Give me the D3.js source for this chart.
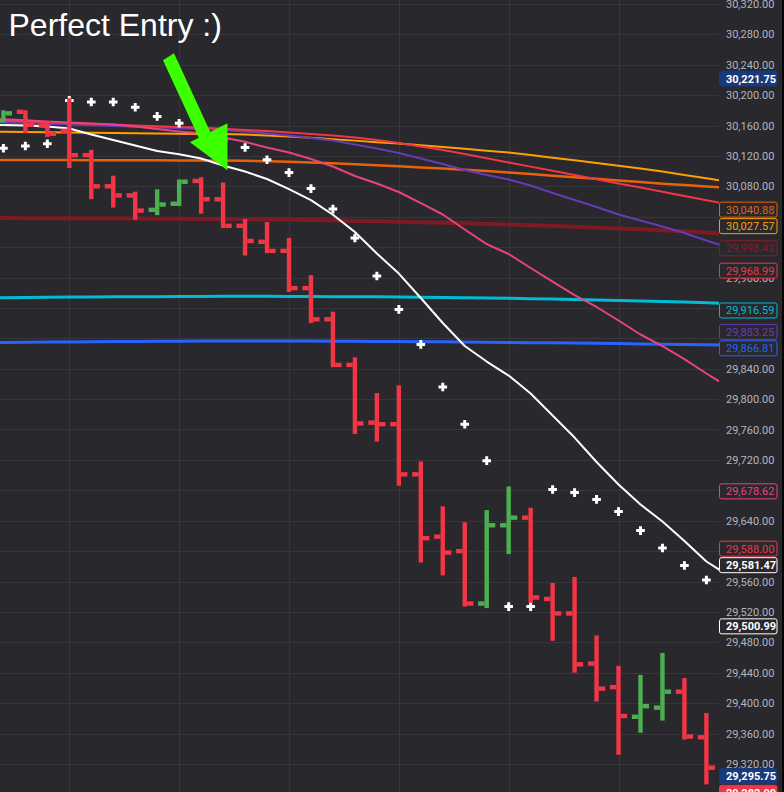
<!DOCTYPE html>
<meta charset="utf-8" />
<style>
  body { margin: 0; background: #28282d; }
  svg { display: block; }
  .tick text { font-family: Roboto, sans-serif; font-size: 11px; fill: #b2b5be; }
</style>
<body>
  <svg id="chart" width="784" height="792"></svg>
</body>
<script src="https://d3js.org/d3.v7.min.js"></script>
<script>
  // OHLC bars, one entry per bar
  const opens = [30166, 30178, 30160, 30153, 30121, 30080, 30068, 30049, 30057, 30087, 30063, 30028, 30007, 29995, 29946, 29905, 29845, 29769, 29767, 29701, 29619, 29600, 29531, 29634, 29644, 29537, 29518, 29452, 29421, 29382, 29394, 29415, 29355];
  const highs = [30180, 30180, 30165, 30196, 30128, 30094, 30073, 30076, 30089, 30092, 30085, 30037, 30033, 30012, 29963, 29915, 29855, 29808, 29818, 29718, 29659, 29638, 29654, 29685, 29657, 29558, 29566, 29489, 29449, 29437, 29466, 29433, 29387];
  const lows = [30164, 30150, 30145, 30104, 30063, 30052, 30036, 30042, 30054, 30044, 30025, 29989, 29992, 29941, 29900, 29842, 29754, 29744, 29686, 29585, 29568, 29527, 29525, 29596, 29532, 29482, 29440, 29402, 29332, 29361, 29377, 29352, 29293];
  const closes = [30176, 30161, 30149, 30121, 30080, 30068, 30048, 30056, 30086, 30063, 30028, 30008, 29995, 29946, 29905, 29845, 29768, 29767, 29701, 29617, 29598, 29531, 29634, 29644, 29539, 29518, 29451, 29419, 29383, 29396, 29415, 29356, 29315];

  // parabolic SAR, one per bar
  const sar = [30130, 30133, 30136, 30193, 30191, 30191, 30184, 30172, 30163, 30150, 30141, 30131, 30115, 30098, 30077, 30050, 30012, 29962, 29918, 29872, 29816, 29767, 29719, 29527, 29527, 29681, 29677, 29668, 29652, 29627, 29604, 29581, 29562];

  // moving averages, bar index -1 .. 33 (one bar each side of the view)
  const maWhite = [30161.3, 30160.6, 30160, 30158.7, 30156, 30148.1, 30140.9, 30133.7, 30126.4, 30122.2, 30116.6, 30107.3, 30099.4, 30089.6, 30076.4, 30061.9, 30042.6, 30019.8, 29991.5, 29965.2, 29933, 29900.1, 29869.8, 29849.4, 29831, 29807.3, 29778.4, 29749.4, 29717.2, 29687.6, 29661.3, 29638.9, 29613.3, 29586.3, 29567.9];
  const maPink = [30168.8, 30168.1, 30166.8, 30165.2, 30163.9, 30162.6, 30161.3, 30158.7, 30155.4, 30152.1, 30149.7, 30144.2, 30138.5, 30131, 30124.4, 30115.9, 30106, 30093.5, 30083.7, 30072.5, 30058, 30042.9, 30023.1, 30004, 29990.9, 29972.5, 29954.7, 29936.9, 29921.2, 29903.4, 29885, 29869.8, 29852.7, 29833.7, 29815.9];
  const maPurple = [30164.3, 30163.7, 30162.9, 30161.9, 30161.2, 30160.4, 30159.3, 30158.5, 30157.6, 30156.4, 30155.1, 30154, 30152.1, 30149.4, 30146.8, 30143.5, 30140.2, 30135, 30129.7, 30123.8, 30116.6, 30109.3, 30101.4, 30094.8, 30088.9, 30081, 30071.2, 30061.9, 30052.7, 30042.9, 30035, 30027.1, 30018.5, 30008.7, 29999.4];
  const maRed = [30166.8, 30166.3, 30165.2, 30164.2, 30163.3, 30162.2, 30161.2, 30160.1, 30159, 30158, 30156.9, 30155.6, 30154, 30152.7, 30150.8, 30148.8, 30146.8, 30144.2, 30140.9, 30136.9, 30132.3, 30127.7, 30122.5, 30116.9, 30111.4, 30105.9, 30100.4, 30094.8, 30089.3, 30083.8, 30078.3, 30072.7, 30067.2, 30061.7, 30056.2];
  const maAmber = [30151.9, 30151.8, 30151.4, 30151, 30150.8, 30150.5, 30150.1, 30149.7, 30149.4, 30149.2, 30148.9, 30148.8, 30148, 30146.8, 30145.4, 30143.8, 30141.9, 30140.1, 30138.1, 30136.2, 30133.9, 30131.7, 30129.3, 30126.9, 30124.6, 30121.2, 30117.7, 30114.2, 30110.6, 30106.9, 30103.3, 30099.4, 30094.8, 30090.5, 30086.3];
  const maOrange = [30114.6, 30114.6, 30114.5, 30114.5, 30114.5, 30114.3, 30114.3, 30114.2, 30114.2, 30114, 30113.9, 30113.9, 30113.6, 30113, 30112.2, 30111.3, 30110.2, 30109, 30107.7, 30106.3, 30104.8, 30103.4, 30101.9, 30100.1, 30098.1, 30096.1, 30094, 30091.9, 30089.8, 30087.7, 30085.6, 30083.5, 30081.7, 30079.8, 30077.7];
  const maMaroon = [30038.3, 30038.3, 30038.1, 30038, 30037.9, 30037.7, 30037.6, 30037.5, 30037.3, 30037.2, 30037.1, 30036.9, 30036.7, 30036.3, 30035.9, 30035.5, 30035, 30034.4, 30033.9, 30033.3, 30032.6, 30032, 30031.3, 30030.5, 30029.6, 30028.7, 30027.7, 30026.7, 30025.6, 30024.6, 30023.4, 30022.2, 30021, 30019.2, 30017.2];
  const maCyan = [29933.3, 29933.5, 29933.8, 29934.1, 29934.3, 29934.5, 29934.6, 29934.7, 29934.8, 29935, 29935.1, 29935.2, 29935.2, 29935.2, 29935.1, 29935, 29934.8, 29934.7, 29934.6, 29934.3, 29934.1, 29933.8, 29933.5, 29933, 29932.6, 29932.2, 29931.7, 29931.2, 29930.5, 29929.8, 29929.2, 29928.4, 29927.6, 29926.7, 29925.6];
  const maBlue = [29874.2, 29874.4, 29874.7, 29875, 29875.2, 29875.5, 29875.7, 29875.9, 29876, 29876.1, 29876.3, 29876.4, 29876.4, 29876.4, 29876.4, 29876.3, 29876.1, 29876, 29875.9, 29875.7, 29875.6, 29875.3, 29875.1, 29874.8, 29874.6, 29874.3, 29874.1, 29873.8, 29873.4, 29873, 29872.6, 29872.2, 29871.8, 29871.4, 29870.9];

  // price axis ticks
  const priceTicks = [29320, 29360, 29400, 29440, 29480, 29520, 29560, 29600, 29640, 29680, 29720, 29760, 29800, 29840, 29880, 29920, 29960, 30000, 30040, 30080, 30120, 30160, 30200, 30240, 30280, 30320];

  // last values shown on the price scale
  const labelValues = [30221.75, 30040.88, 30027.57, 29998.42, 29968.99, 29916.59, 29883.25, 29866.81, 29678.62, 29588.0, 29581.47, 29500.99, 29295.75, 29282.0];

  // annotation arrow points at this bar / price
  const arrowTip = { bar: 10.2, price: 30101 };

  const title = "Perfect Entry :)";

  // ---- styling ----
  const bg = "#28282d";
  const gridColor = "#36363c";
  const upColor = "#4caf50";
  const downColor = "#f23645";
  const navy = "#183a7a";

  const lineStyles = [
    { data: maMaroon, color: "#7d1b24", width: 4 },
    { data: maCyan, color: "#00bcd4", width: 3 },
    { data: maBlue, color: "#2962ff", width: 3 },
    { data: maOrange, color: "#e8620c", width: 2.5 },
    { data: maAmber, color: "#ffa000", width: 2 },
    { data: maPurple, color: "#673ab7", width: 2 },
    { data: maRed, color: "#f23645", width: 2 },
    { data: maPink, color: "#e8437c", width: 2 },
    { data: maWhite, color: "#ffffff", width: 2 },
  ];

  // label styles: same order as labelValues
  const labelStyles = [
    { fill: navy, stroke: navy, text: "#fff", bold: true },
    { fill: bg, stroke: "#e8620c", text: "#e8620c" },
    { fill: bg, stroke: "#ffa000", text: "#ffa000" },
    { fill: bg, stroke: "#8b1c26", text: "#8b1c26" },
    { fill: bg, stroke: "#f23645", text: "#f23645" },
    { fill: bg, stroke: "#00bcd4", text: "#00bcd4" },
    { fill: bg, stroke: "#673ab7", text: "#673ab7" },
    { fill: bg, stroke: "#2962ff", text: "#2962ff" },
    { fill: bg, stroke: "#e8437c", text: "#e8437c" },
    { fill: bg, stroke: "#f23645", text: "#f23645" },
    { fill: bg, stroke: "#ffffff", text: "#ffffff", bold: true },
    { fill: bg, stroke: "#ffffff", text: "#ffffff", bold: true },
    { fill: navy, stroke: navy, text: "#fff", bold: true },
    { fill: downColor, stroke: downColor, text: "#fff", bold: true },
  ];

  const svg = d3.select("#chart");
  const W = 784, H = 792;
  const plotRight = 719;

  // bar index -> x
  const x = d3.scaleLinear().domain([0, 32]).range([3.4, 706.4]);
  const y = d3.scaleLinear().domain([29280, 30320]).range([794.3, 3.9]);

  svg.append("rect").attr("width", W).attr("height", H).attr("fill", bg);

  svg.append("clipPath").attr("id", "plot")
    .append("rect").attr("width", plotRight).attr("height", H);

  const plot = svg.append("g").attr("clip-path", "url(#plot)");

  // grid
  plot.append("g").selectAll("line").data(priceTicks).join("line")
    .attr("x1", 0).attr("x2", plotRight)
    .attr("y1", (d) => Math.round(y(d)) + 0.5).attr("y2", (d) => Math.round(y(d)) + 0.5)
    .attr("stroke", gridColor);

  plot.append("g").selectAll("line").data(d3.range(3, 33, 5)).join("line")
    .attr("x1", (d) => Math.round(x(d)) + 0.5).attr("x2", (d) => Math.round(x(d)) + 0.5)
    .attr("y1", 0).attr("y2", H)
    .attr("stroke", gridColor);

  // moving averages
  const line = d3.line().x((d, i) => x(i - 1)).y((d) => y(d));
  plot.append("g").selectAll("path").data(lineStyles).join("path")
    .attr("d", (d) => line(d.data))
    .attr("fill", "none")
    .attr("stroke", (d) => d.color)
    .attr("stroke-width", (d) => d.width)
    .attr("stroke-linejoin", "round");

  // SAR crosses
  const cs = 4.3;
  plot.append("g").selectAll("path").data(sar).join("path")
    .attr("d", (d, i) => {
      const cx = x(i), cy = y(d);
      return `M${cx - cs},${cy}H${cx + cs}M${cx},${cy - cs}V${cy + cs}`;
    })
    .attr("stroke", "#fff")
    .attr("stroke-width", 3);

  // OHLC bars
  const bw = 4.4, tick = 6.4;
  const bars = plot.append("g").selectAll("g").data(opens).join("g")
    .attr("fill", (d, i) => (closes[i] >= opens[i] ? upColor : downColor));
  bars.append("rect")
    .attr("x", (d, i) => x(i) - bw / 2)
    .attr("width", bw)
    .attr("y", (d, i) => y(highs[i]))
    .attr("height", (d, i) => y(lows[i]) - y(highs[i]));
  bars.append("rect")
    .attr("x", (d, i) => x(i) - bw / 2 - tick)
    .attr("width", tick)
    .attr("y", (d, i) => y(opens[i]) - bw / 2)
    .attr("height", bw);
  bars.append("rect")
    .attr("x", (d, i) => x(i) + bw / 2)
    .attr("width", tick)
    .attr("y", (d, i) => y(closes[i]) - bw / 2)
    .attr("height", bw);

  // arrow annotation
  const tx = x(arrowTip.bar), ty = y(arrowTip.price);
  const arrowShape = [[-64.5, -110], [-53.5, -117], [-17.2, -38.3], [0, -47], [0, 0], [-37.5, -28], [-28.7, -32.5]];
  svg.append("polygon")
    .attr("points", arrowShape.map((p) => [tx + p[0], ty + p[1]].join(",")).join(" "))
    .attr("fill", "#3cff00");

  // title
  svg.append("text")
    .attr("x", 8.5).attr("y", 35.7)
    .attr("fill", "#fff")
    .style("font-family", "'Liberation Sans', Arial, sans-serif")
    .style("font-size", "32px")
    .text(title);

  // value labels, pushed up when they overlap
  const placed = labelValues.map((v, i) => ({ v, i, cy: y(v) })).sort((a, b) => b.cy - a.cy);
  for (let k = 1; k < placed.length; k++) {
    if (placed[k].cy > placed[k - 1].cy - 16.5) placed[k].cy = placed[k - 1].cy - 16.5;
  }

  // tick labels that sit fully under a value label are not drawn
  const covered = (ty) => [ty - 4, ty, ty + 4].every((p) => placed.some((b) => Math.abs(p - b.cy) <= 8.5));
  const shownTicks = priceTicks.filter((t) => !covered(y(t)));

  // price axis
  svg.append("g")
    .attr("transform", `translate(${plotRight},0)`)
    .call(d3.axisRight(y).tickValues(shownTicks).tickSize(0).tickPadding(7).tickFormat(d3.format(",.2f")))
    .call((g) => g.select(".domain").remove());

  const fmt = d3.format(",.2f");
  const lab = svg.append("g").selectAll("g").data(placed).join("g")
    .attr("transform", (d) => `translate(${plotRight + 0.5},${d.cy})`);
  lab.append("rect")
    .attr("x", 0).attr("y", -7.5).attr("width", 57.5).attr("height", 15).attr("rx", 2)
    .attr("fill", (d) => labelStyles[d.i].fill)
    .attr("stroke", (d) => labelStyles[d.i].stroke);
  lab.append("text")
    .attr("x", 6.5).attr("dy", "0.36em")
    .attr("fill", (d) => labelStyles[d.i].text)
    .style("font-family", "Roboto, sans-serif")
    .style("font-size", "11px")
    .style("font-weight", (d) => (labelStyles[d.i].bold ? "bold" : "normal"))
    .text((d) => fmt(d.v));

  svg.append("rect").attr("x", 782).attr("width", 2).attr("height", H).attr("fill", "#050505");
</script>
